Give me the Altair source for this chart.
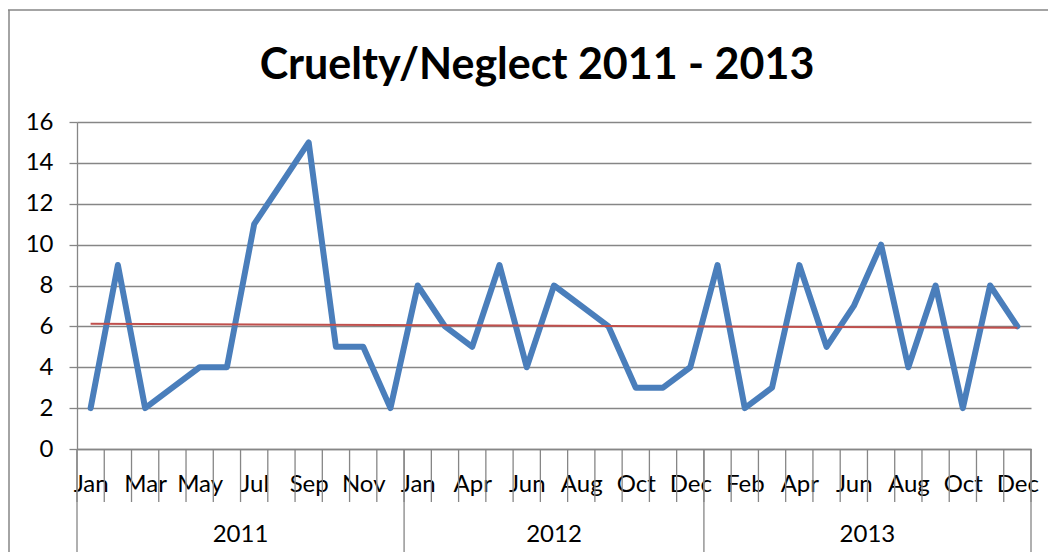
import altair as alt
import pandas as pd

# ---- data ----
years = ["2011"] * 12 + ["2012"] * 11 + ["2013"] * 12
months = ["Jan", "Feb", "Mar", "Apr", "May", "Jun", "Jul", "Aug", "Sep", "Oct", "Nov", "Dec",
          "Jan", "Mar", "Apr", "May", "Jun", "Jul", "Aug", "Sep", "Oct", "Nov", "Dec",
          "Jan", "Feb", "Mar", "Apr", "May", "Jun", "Jul", "Aug", "Sep", "Oct", "Nov", "Dec"]
values = [2, 9, 2, 3, 4, 4, 11, 13, 15, 5, 5, 2,
          8, 6, 5, 9, 4, 8, 7, 6, 3, 3, 4,
          9, 2, 3, 9, 5, 7, 10, 4, 8, 2, 8, 6]
year_names = ["2011", "2012", "2013"]
y_ticks = [0, 2, 4, 6, 8, 10, 12, 14, 16]

n = len(values)
keys = [f"{i:02d}|{y}|{m}" for i, (y, m) in enumerate(zip(years, months))]
df = pd.DataFrame({"key": keys, "value": values, "pos": [i + 0.5 for i in range(n)]})

counts = [years.count(y) for y in year_names]
starts = [sum(counts[:k]) for k in range(len(counts))]
year_df = pd.DataFrame({"year": year_names,
                        "mid": [s + c / 2 for s, c in zip(starts, counts)]})
div_df = pd.DataFrame({"b": starts + [n]})
bound_df = pd.DataFrame({"b": list(range(n + 1))})
one = pd.DataFrame({"a": [0]})

W, H = 954, 327
GRAY = "#868686"
FONT = "Lato"
FS = 24

qscale = alt.Scale(domain=[0, n], nice=False, zero=False)
yenc = alt.Y("value:Q", scale=alt.Scale(domain=[0, 16], nice=False),
             axis=alt.Axis(values=y_ticks, title=None, grid=True, gridColor=GRAY,
                           gridWidth=1.3, tickColor=GRAY, tickWidth=1.3, tickSize=8,
                           domainColor=GRAY, domainWidth=1.3, labelFont=FONT,
                           labelFontSize=FS, labelColor="black", labelPadding=16))

line = alt.Chart(df).mark_line(color="#4A7EBB", strokeWidth=6, strokeJoin="round",
                               strokeCap="round").encode(
    x=alt.X("key:O", sort=keys, scale=alt.Scale(type="point", padding=0.5),
            axis=alt.Axis(title=None, ticks=False, grid=False, labelAngle=0,
                          labelOverlap=False, labelFont=FONT, labelFontSize=FS,
                          labelColor="black", labelBaseline="middle", labelPadding=35,
                          domainColor=GRAY, domainWidth=1.3,
                          labelExpr="toNumber(split(datum.value,'|')[0]) % 2 == 0 ? split(datum.value,'|')[2] : ''")),
    y=yenc,
)

trend = alt.Chart(df).transform_regression("pos", "value").mark_line(
    color="#C0504D", strokeWidth=2).encode(
    x=alt.X("pos:Q", scale=qscale, axis=None),
    y=yenc,
)

ticks = alt.Chart(bound_df).mark_rule(color=GRAY, strokeWidth=1.3).encode(
    x=alt.X("b:Q", scale=qscale, axis=None), y=alt.value(H), y2=alt.value(H + 53))

divs = alt.Chart(div_df).mark_rule(color=GRAY, strokeWidth=1.3).encode(
    x=alt.X("b:Q", scale=qscale, axis=None), y=alt.value(H), y2=alt.value(H + 103))

year_text = alt.Chart(year_df).mark_text(font=FONT, fontSize=FS, color="black",
                                         baseline="middle").encode(
    x=alt.X("mid:Q", scale=qscale, axis=None), y=alt.value(H + 86), text="year:N")

frame_top = alt.Chart(one).mark_rule(color=GRAY, strokeWidth=1.5).encode(
    x=alt.value(-69), x2=alt.value(W + 30), y=alt.value(-112))
frame_left = alt.Chart(one).mark_rule(color=GRAY, strokeWidth=1.5).encode(
    x=alt.value(-68), y=alt.value(-112), y2=alt.value(H + 120))

chart = alt.layer(frame_top, frame_left, ticks, divs, line, trend, year_text).resolve_scale(
    x="independent"
).properties(
    width=W, height=H,
    title=alt.TitleParams("Cruelty/Neglect 2011 - 2013", font=FONT, fontSize=43,
                          fontWeight="bold", color="black", anchor="middle",
                          frame="group", baseline="alphabetic", offset=-113, dx=-17),
    padding={"left": 69, "top": 114, "right": 17, "bottom": 103},
    autosize=alt.AutoSizeParams(type="none"),
    background="white",
).configure_view(stroke=None)

chart.save("out.html", embed_options={"renderer": "svg", "actions": False})
